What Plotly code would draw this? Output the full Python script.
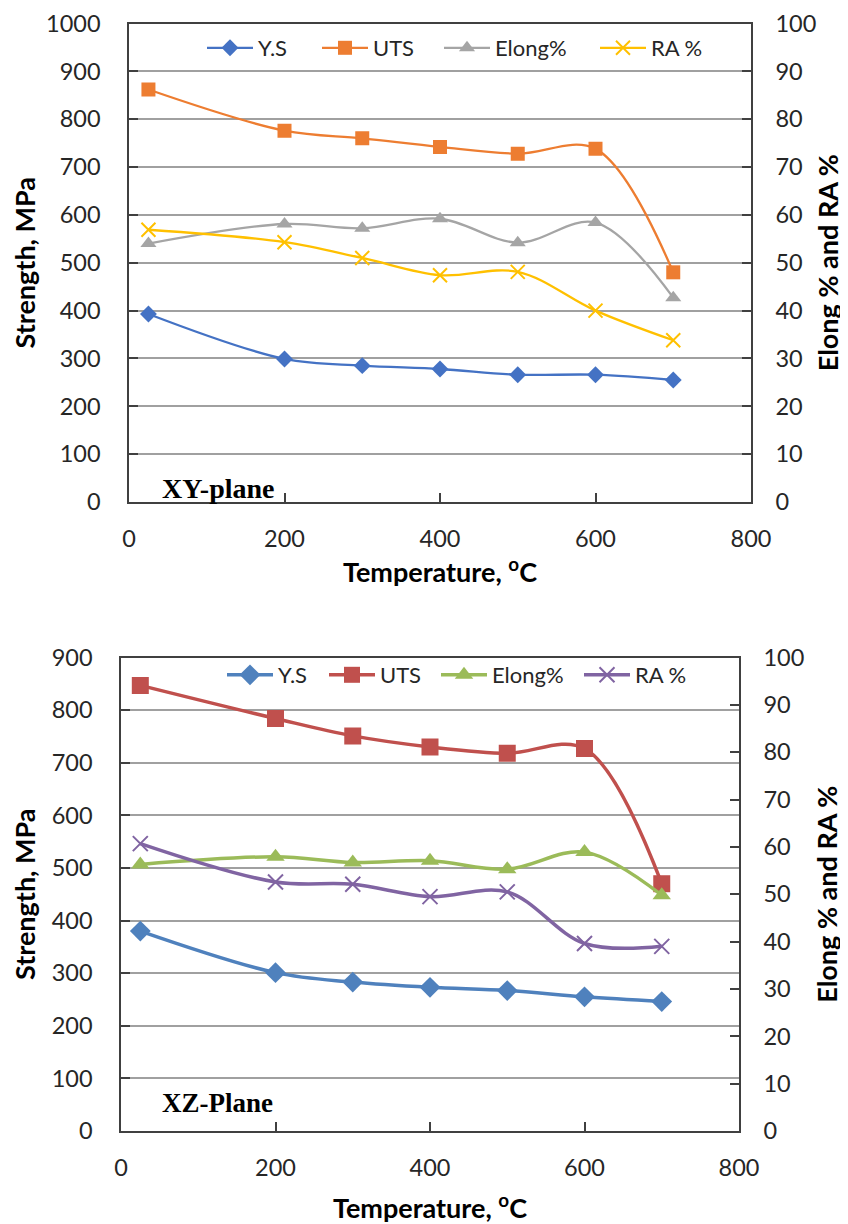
import plotly.graph_objects as go

# ---------------- data ----------------
temps = [25, 200, 300, 400, 500, 600, 700]

xy_ys = [393, 299, 285, 278, 266, 266, 255]
xy_uts = [862, 776, 760, 742, 728, 738, 480]
xy_elong = [54.0, 58.1, 57.2, 59.2, 54.2, 58.4, 42.7]
xy_ra = [56.9, 54.3, 51.0, 47.4, 48.1, 40.0, 33.8]

xz_ys = [380, 301, 283, 273, 267, 255, 246]
xz_uts = [847, 784, 751, 730, 718, 727, 470]
xz_elong = [56.3, 57.9, 56.7, 57.1, 55.3, 58.9, 49.8]
xz_ra = [60.7, 52.6, 52.1, 49.5, 50.5, 39.6, 39.0]

series_names = ["Y.S", "UTS", "Elong%", "RA %"]
top_colors = ["#4472C4", "#ED7D31", "#A5A5A5", "#FFC000"]
bot_colors = ["#4F81BD", "#C0504D", "#9BBB59", "#8064A2"]
symbols = ["diamond", "square", "triangle-up", "x-thin"]

# page body has an 8px margin, so the figure starts at (8, 8) in the window
OFF = 8
W, H = 848 - OFF, 1224 - OFF


def px(x):
    return (x - OFF) / W


def py(y):
    return 1 - (y - OFF) / H


FONT = "Lato"
fig = go.Figure()

# legend entry start positions (window pixels)
top_leg_x = [207, 322, 444, 600]
bot_leg_x = [227, 329, 441, 584]
top_leg_y = 48
bot_leg_y = 675
legend_ids = ["legend", "legend2", "legend3", "legend4",
              "legend5", "legend6", "legend7", "legend8"]


def add_series(xvals, ys, yaxis, name, color, symbol, lw, msize, legend, xaxis):
    mk = dict(symbol=symbol, size=msize, color=color)
    if symbol == "x-thin":
        mk["line"] = dict(width=2, color=color)
    fig.add_trace(go.Scatter(
        x=xvals, y=ys, name=name, mode="lines+markers",
        line=dict(color=color, width=lw, shape="spline", smoothing=1.0),
        marker=mk, xaxis=xaxis, yaxis=yaxis, legend=legend, showlegend=True,
    ))


top_data = [xy_ys, xy_uts, xy_elong, xy_ra]
bot_data = [xz_ys, xz_uts, xz_elong, xz_ra]
top_axes = ["y", "y", "y2", "y2"]
bot_axes = ["y3", "y3", "y4", "y4"]
top_sizes = [13, 14, 14, 14]
bot_sizes = [16, 17, 16, 15]

for i in range(4):
    add_series(temps, top_data[i], top_axes[i], series_names[i], top_colors[i],
               symbols[i], 2.3, top_sizes[i], legend_ids[i], "x")
for i in range(4):
    add_series(temps, bot_data[i], bot_axes[i], series_names[i], bot_colors[i],
               symbols[i], 3.5, bot_sizes[i], legend_ids[4 + i], "x2")

tick_font = dict(family=FONT, size=23.5, color="#262626")
title_font = dict(family=FONT, size=27, color="#000000")
frame = "#404040"

common_x = dict(range=[0, 800], dtick=200, tick0=0, showgrid=False, zeroline=False,
                showline=True, linecolor=frame, linewidth=1.5, mirror=True,
                ticks="inside", ticklen=9, tickcolor=frame, tickwidth=1.5,
                tickfont=tick_font, ticklabelstandoff=15, automargin=False,
                ticklabeloverflow="allow")
left_y = dict(showgrid=True, gridcolor="#A0A0A0", gridwidth=1.5, zeroline=False,
              showline=True, linecolor=frame, linewidth=1.5,
              ticks="inside", ticklen=9, tickcolor=frame, tickwidth=1.5,
              tickfont=tick_font, ticklabelstandoff=22, automargin=False,
              ticklabeloverflow="allow")
right_y = dict(range=[0, 100], dtick=10, tick0=0, showgrid=False, zeroline=False,
               showline=True, linecolor=frame, linewidth=1.5, side="right",
               ticks="inside", ticklen=9, tickcolor=frame, tickwidth=1.5,
               tickfont=tick_font, ticklabelstandoff=18, automargin=False,
               ticklabeloverflow="allow")

legend_font = dict(family=FONT, size=22, color="#262626")
legends = {}
for k in range(8):
    lx = top_leg_x[k] if k < 4 else bot_leg_x[k - 4]
    ly = top_leg_y if k < 4 else bot_leg_y
    legends[legend_ids[k]] = dict(
        orientation="h", x=px(lx - 5), xanchor="left", y=py(ly), yanchor="middle",
        font=legend_font, bgcolor="rgba(0,0,0,0)", itemwidth=46,
        borderwidth=0,
    )

fig.update_layout(
    width=W, height=H,
    showlegend=True,
    margin=dict(l=0, r=0, t=0, b=0, autoexpand=False),
    paper_bgcolor="white", plot_bgcolor="white",
    font=dict(family=FONT),
    xaxis=dict(common_x, domain=[px(129), px(751)], anchor="y",
               title=dict(text="<b>Temperature, <sup>o</sup>C</b>", font=title_font, standoff=1)),
    yaxis=dict(left_y, domain=[py(502), py(23.5)], range=[0, 1000], dtick=100, anchor="x",
               title=dict(text="<b>Strength, MPa</b>", font=title_font, standoff=10)),
    yaxis2=dict(right_y, overlaying="y", anchor="x",
                title=dict(text="<b>Elong % and RA %</b>", font=title_font, standoff=4)),
    xaxis2=dict(common_x, domain=[px(121), px(739)], anchor="y3",
                title=dict(text="<b>Temperature, <sup>o</sup>C</b>", font=title_font, standoff=24)),
    yaxis3=dict(left_y, domain=[py(1131), py(657.5)], range=[0, 900], dtick=100, anchor="x2",
                title=dict(text="<b>Strength, MPa</b>", font=title_font, standoff=9)),
    yaxis4=dict(right_y, overlaying="y3", anchor="x2",
                title=dict(text="<b>Elong % and RA %</b>", font=title_font, standoff=15)),
    annotations=[
        dict(text="<b>XY-plane</b>", x=px(160), y=py(488), xref="paper", yref="paper",
             xanchor="left", yanchor="middle", showarrow=False,
             font=dict(family="Liberation Serif", size=28, color="#000000")),
        dict(text="<b>XZ-Plane</b>", x=px(160), y=py(1103), xref="paper", yref="paper",
             xanchor="left", yanchor="middle", showarrow=False,
             font=dict(family="Liberation Serif", size=27, color="#000000")),
    ],
    **legends,
)

fig.write_html("out.html")
